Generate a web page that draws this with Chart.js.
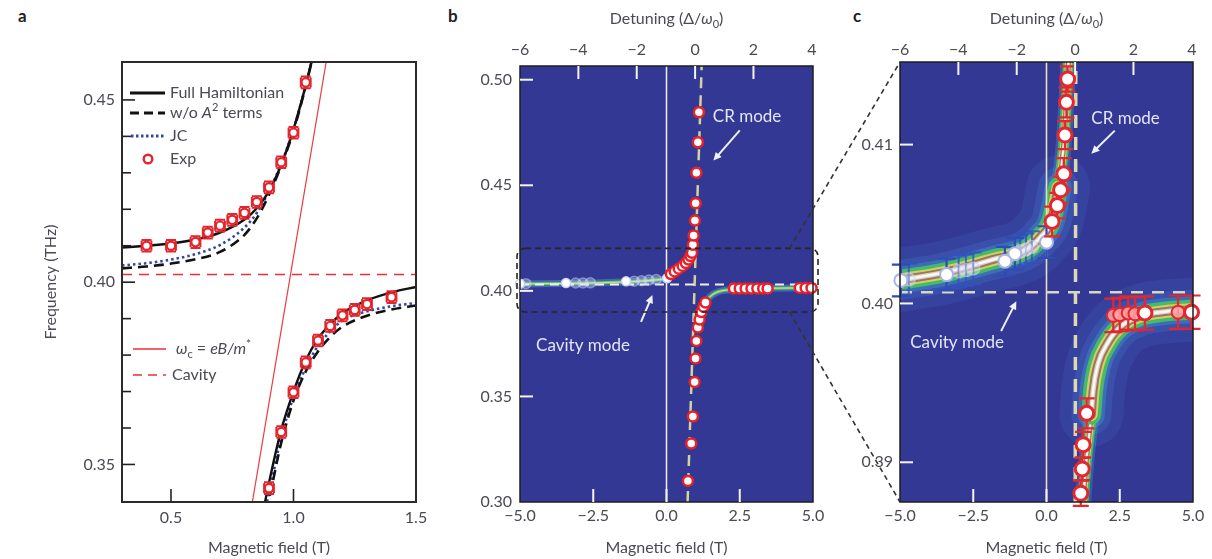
<!DOCTYPE html>
<html>
<head>
<meta charset="utf-8">
<script src="https://cdn.jsdelivr.net/npm/chart.js@4.4.1/dist/chart.umd.min.js"></script>
<style>
  body { margin: 0; background: #fff; width: 1212px; height: 559px; overflow: hidden; position: relative; }
  canvas { position: absolute; left: 0; top: 0; }
  .panel { position: absolute; font: bold 17px Lato, sans-serif; color: #222; line-height: 17px; }
</style>
</head>
<body>
<div class="panel" style="left:18px;top:7px">a</div>
<div class="panel" style="left:448px;top:7px">b</div>
<div class="panel" style="left:853px;top:7px">c</div>
<canvas id="chartA" width="1212" height="559"></canvas>
<canvas id="chartB" width="1212" height="559"></canvas>
<canvas id="chartC" width="1212" height="559"></canvas>
<script>
// ---------- panel a : anticrossing, theory vs experiment ----------
const aXRange = [0.3, 1.5];
const aYRange = [0.3397, 0.4604];
const aXTicks = [0.5, 1.0, 1.5];
const aYTicks = [0.35, 0.36, 0.37, 0.38, 0.39, 0.40, 0.41, 0.42, 0.43, 0.44, 0.45];
const aYLabeled = [0.35, 0.40, 0.45];

const aExpUpperB = [0.40, 0.50, 0.60, 0.65, 0.70, 0.75, 0.80, 0.85, 0.90, 0.95, 1.00, 1.05];
const aExpUpperF = [0.4100, 0.4100, 0.4110, 0.4136, 0.4155, 0.4171, 0.4190, 0.4220, 0.4260, 0.4329, 0.4410, 0.4548];
const aExpLowerB = [0.90, 0.95, 1.00, 1.05, 1.10, 1.15, 1.20, 1.25, 1.30, 1.40];
const aExpLowerF = [0.3435, 0.3589, 0.3698, 0.3780, 0.3840, 0.3880, 0.3909, 0.3924, 0.3940, 0.3959];
const aExpErrF = 0.0016;
const aExpErrB = 0.02;

const aUpperB = [0.30, 0.40, 0.50, 0.60, 0.70, 0.80, 0.85, 0.90, 0.95, 1.00, 1.05, 1.10];
const aFullUpperF = [0.4095, 0.4100, 0.4106, 0.4117, 0.4136, 0.4172, 0.4203, 0.4250, 0.4322, 0.4420, 0.4540, 0.4680];
const aNoA2UpperF = [0.4038, 0.4043, 0.4051, 0.4063, 0.4083, 0.4130, 0.4175, 0.4240, 0.4320, 0.4415, 0.4538, 0.4680];
const aJcUpperF = [0.4046, 0.4052, 0.4062, 0.4077, 0.4102, 0.4150, 0.4190, 0.4250, 0.4325, 0.4420, 0.4540, 0.4680];

const aLowerB = [0.87, 0.90, 0.95, 1.00, 1.05, 1.10, 1.15, 1.20, 1.30, 1.40, 1.50];
const aFullLowerF = [0.3350, 0.3450, 0.3595, 0.3700, 0.3785, 0.3845, 0.3885, 0.3915, 0.3950, 0.3972, 0.3987];
const aNoA2LowerF = [0.3330, 0.3405, 0.3560, 0.3675, 0.3755, 0.3810, 0.3850, 0.3878, 0.3908, 0.3925, 0.3936];
const aJcLowerF = [0.3340, 0.3420, 0.3575, 0.3685, 0.3765, 0.3825, 0.3865, 0.3895, 0.3920, 0.3934, 0.3943];

const aCavityF = 0.4021;
const aOmegaB = [0.82, 1.145];
const aOmegaF = [0.3348, 0.4651];

// ---------- panel b : full transmission map ----------
const bXRange = [-5, 5];
const bYRange = [0.30, 0.5065];
const detRange = [-6.0, 4.04];
const detTicks = [-6, -4, -2, 0, 2, 4];
const fieldTicks = [-5, -2.5, 0, 2.5, 5];
const bYTicks = [0.30, 0.35, 0.40, 0.45, 0.50];

const bRedUpperB = [0.15, 0.28, 0.42, 0.55, 0.66, 0.75, 0.82, 0.87, 0.90, 0.925, 0.97, 0.993, 1.02, 1.07, 1.106];
const bRedUpperF = [0.4080, 0.4092, 0.4105, 0.4118, 0.4132, 0.4148, 0.4165, 0.4180, 0.4218, 0.4262, 0.4333, 0.4415, 0.4559, 0.4704, 0.4846];
const bRedLowerB = [0.73, 0.845, 0.90, 0.96, 0.99, 1.02, 1.07, 1.13, 1.19, 1.26, 1.33, 2.30, 2.50, 2.70, 2.90, 3.10, 3.30, 3.45, 4.55, 4.75, 4.95];
const bRedLowerF = [0.3100, 0.3277, 0.3405, 0.3568, 0.3680, 0.3763, 0.3826, 0.3864, 0.3900, 0.3925, 0.3945, 0.4011, 0.4011, 0.4011, 0.4011, 0.4011, 0.4011, 0.4011, 0.4014, 0.4014, 0.4014];
const bWhiteB = [-5.0, -3.43, -1.38, 0.02];
const bWhiteF = [0.4034, 0.4037, 0.4045, 0.4060];
const bFaintB = [-4.8, -3.1, -2.85, -2.6, -1.1, -0.85, -0.6, -0.35];
const bFaintF = [0.4034, 0.4037, 0.4037, 0.4038, 0.4046, 0.4048, 0.4051, 0.4054];

// visible (flat) parts of the polariton ridges
const bRidgeUpperB = [-5.0, -3.0, -1.5, -0.5, 0.0, 0.3, 0.55];
const bRidgeUpperF = [0.4033, 0.4036, 0.4042, 0.4050, 0.4060, 0.4082, 0.4108];
const bRidgeLowerB = [1.10, 1.20, 1.35, 1.60, 2.00, 3.00, 5.00];
const bRidgeLowerF = [0.3835, 0.3905, 0.3950, 0.3985, 0.4003, 0.4011, 0.4014];

const bCavityF = 0.4030;
const bCrB = [0.72, 1.20];
const bBoxF = [0.3900, 0.4201];
const bLinkB = 4.2;

// ---------- panel c : zoom on the anticrossing ----------
const cXRange = [-5, 5];
const cYRange = [0.3875, 0.4152];
const cYTicks = [0.39, 0.40, 0.41];

const cRedUpperB = [0.72, 0.68, 0.63, 0.59, 0.48, 0.37, 0.19];
const cRedUpperF = [0.41413, 0.41266, 0.41060, 0.40816, 0.40715, 0.40616, 0.40516];
const cRedUpperErr = [0.00080, 0.00094, 0.00088, 0.00099, 0.00084, 0.00080, 0.00094];
const cWhiteB = [0.0, -1.08, -1.42, -3.41, -4.97];
const cWhiteF = [0.40386, 0.40313, 0.40266, 0.40182, 0.40145];
const cWhiteErr = [0.0010, 0.0010, 0.0009, 0.0010, 0.0010];
const cFaintB = [-4.7, -3.0, -2.75, -2.5, -0.9, -0.7, -0.5];
const cFaintF = [0.40150, 0.40203, 0.40210, 0.40220, 0.40329, 0.40340, 0.40355];
const cRedLowerB = [1.37, 1.25, 1.22, 1.17];
const cRedLowerF = [0.39308, 0.39111, 0.38958, 0.38805];
const cRedLowerErr = [0.00094, 0.00080, 0.00070, 0.00080];
const cRedRightB = [3.36, 4.95];
const cRedRightF = [0.39940, 0.39945];
const cRedFaintB = [2.28, 2.50, 2.79, 3.02, 4.49];
const cRedFaintF = [0.39925, 0.39930, 0.39940, 0.39935, 0.39945];
const cRightErr = 0.00105;

// ridges split into a flat (broad) part and a steep (narrow) part
const cFlatUpperB = [-5.0, -3.53, -1.82, -0.68, -0.2, 0.17, 0.40];
const cFlatUpperF = [0.40148, 0.40193, 0.40277, 0.40340, 0.40420, 0.40522, 0.40731];
const cSteepUpperB = [-0.2, 0.17, 0.40, 0.57, 0.68, 0.74, 0.80];
const cSteepUpperF = [0.40420, 0.40522, 0.40731, 0.40962, 0.41277, 0.41486, 0.41700];
const cSteepLowerB = [1.22, 1.25, 1.37, 1.53, 1.59, 1.76, 2.05];
const cSteepLowerF = [0.3865, 0.3875, 0.3903, 0.3930, 0.3945, 0.3962, 0.3974];
const cFlatLowerB = [1.53, 1.59, 1.76, 2.05, 2.50, 3.19, 4.10, 4.95];
const cFlatLowerF = [0.3930, 0.3945, 0.3962, 0.3974, 0.3985, 0.3992, 0.3995, 0.3996];

const cCavityF = 0.4007;
const cCrB = [0.98, 1.00];

// ---------- helpers ----------
const FAM = "Lato, 'DejaVu Sans', sans-serif";
const TXT = '#4a4a52';
const font = (size, style) => ((style ? style + ' ' : '') + size + 'px ' + FAM);
const pts = (xs, ys) => xs.map((x, i) => ({ x: x, y: ys[i] }));
const minus = s => s.replace('-', '\u2212');
const fmt = n => v => minus(Number(v).toFixed(n));

function line(data, color, width, dash, extra) {
  return Object.assign({ data: data, showLine: true, borderColor: color, borderWidth: width,
    borderDash: dash || [], pointRadius: 0, pointHoverRadius: 0, fill: false, clip: 0,
    borderCapStyle: 'butt', borderJoinStyle: 'round' }, extra || {});
}
function dots(data, r, fill, stroke, bw, extra) {
  return Object.assign({ data: data, showLine: false, pointRadius: r, pointHoverRadius: r,
    backgroundColor: fill, pointBackgroundColor: fill, borderColor: stroke, pointBorderColor: stroke,
    borderWidth: bw, pointBorderWidth: bw, clip: false }, extra || {});
}
// first dataset in the list is drawn first (bottom layer)
function stack(list) { list.forEach((d, i) => { d.order = list.length - i; }); return list; }
const smooth = { cubicInterpolationMode: 'monotone' };
const round = { cubicInterpolationMode: 'monotone', borderCapStyle: 'round' };

function axis(pos, range, ticks, label, pad, size, title) {
  return {
    type: 'linear', position: pos, min: range[0], max: range[1],
    afterBuildTicks: s => { s.ticks = ticks.map(v => ({ value: v })); },
    afterFit: s => {
      if (s.isHorizontal()) s.height = size; else s.width = size;
      s.paddingLeft = 0; s.paddingRight = 0; s.paddingTop = 0; s.paddingBottom = 0;
    },
    grid: { display: false, drawTicks: false },
    border: { display: false },
    ticks: { padding: pad, color: TXT, font: { family: FAM, size: 16 }, callback: label,
      autoSkip: false, maxRotation: 0, minRotation: 0 },
    title: title ? { display: true, text: title, color: TXT, font: { family: FAM, size: 16 }, padding: 0 }
                 : { display: false }
  };
}
function options(padding, scales) {
  return { responsive: false, animation: false, devicePixelRatio: 1, events: [],
    layout: { padding: padding }, scales: scales,
    plugins: { legend: { display: false }, tooltip: { enabled: false } } };
}

// error bars drawn just before their own dataset
Chart.register({
  id: 'errorBars',
  beforeDatasetDraw(chart, args) {
    const ds = chart.data.datasets[args.index];
    if (ds.errY === undefined && ds.errX === undefined) return;
    const ctx = chart.ctx, xs = chart.scales.x, ys = chart.scales.y, cap = ds.errCap || 5;
    ctx.save();
    ctx.strokeStyle = ds.errColor; ctx.lineWidth = ds.errWidth || 1.5;
    ds.data.forEach((p, i) => {
      const px = xs.getPixelForValue(p.x), py = ys.getPixelForValue(p.y);
      ctx.beginPath();
      if (ds.errY !== undefined) {
        const e = Array.isArray(ds.errY) ? ds.errY[i] : ds.errY;
        const y1 = ys.getPixelForValue(p.y - e), y2 = ys.getPixelForValue(p.y + e);
        ctx.moveTo(px, y1); ctx.lineTo(px, y2);
        ctx.moveTo(px - cap, y1); ctx.lineTo(px + cap, y1);
        ctx.moveTo(px - cap, y2); ctx.lineTo(px + cap, y2);
      }
      if (ds.errX !== undefined) {
        const e = Array.isArray(ds.errX) ? ds.errX[i] : ds.errX;
        const x1 = xs.getPixelForValue(p.x - e), x2 = xs.getPixelForValue(p.x + e);
        ctx.moveTo(x1, py); ctx.lineTo(x2, py);
        ctx.moveTo(x1, py - cap); ctx.lineTo(x1, py + cap);
        ctx.moveTo(x2, py - cap); ctx.lineTo(x2, py + cap);
      }
      ctx.stroke();
    });
    ctx.restore();
  }
});

function frame(fill, stroke, width) {
  return {
    id: 'frame',
    beforeDatasetsDraw(chart) {
      if (!fill) return;
      const ctx = chart.ctx, ca = chart.chartArea;
      ctx.save(); ctx.fillStyle = fill; ctx.fillRect(ca.left, ca.top, ca.width, ca.height); ctx.restore();
    },
    afterDatasetsDraw(chart) {
      const ctx = chart.ctx, ca = chart.chartArea;
      ctx.save(); ctx.strokeStyle = stroke; ctx.lineWidth = width;
      ctx.strokeRect(ca.left, ca.top, ca.width, ca.height); ctx.restore();
    }
  };
}

// ticks pointing into the plot
function inwardTicks(spec) {
  return {
    id: 'inTicks',
    afterDatasetsDraw(chart) {
      const ctx = chart.ctx, ca = chart.chartArea;
      ctx.save();
      Object.keys(spec).forEach(id => {
        const o = spec[id], s = chart.scales[id];
        ctx.strokeStyle = o.color; ctx.lineWidth = o.width || 1.5;
        s.ticks.forEach(t => {
          const p = s.getPixelForValue(t.value);
          const len = (!o.major || o.major.includes(t.value)) ? o.len : o.minorLen;
          ctx.beginPath();
          if (s.isHorizontal()) {
            if (p < ca.left + 3 || p > ca.right - 3) return;
            const top = s.position === 'top';
            const y0 = top ? ca.top : ca.bottom;
            ctx.moveTo(p, y0); ctx.lineTo(p, y0 + (top ? len : -len));
          } else {
            if (p < ca.top + 3 || p > ca.bottom - 3) return;
            ctx.moveTo(ca.left, p); ctx.lineTo(ca.left + len, p);
          }
          ctx.stroke();
        });
      });
      ctx.restore();
    }
  };
}

// text with italic / sub / superscript pieces
function rich(ctx, x, y, parts, align, color) {
  let w = 0;
  parts.forEach(p => { ctx.font = font(p.size || 16, p.style); w += ctx.measureText(p.t).width; });
  let cx = align === 'center' ? x - w / 2 : x;
  ctx.fillStyle = color; ctx.textAlign = 'left'; ctx.textBaseline = 'middle';
  parts.forEach(p => {
    ctx.font = font(p.size || 16, p.style);
    ctx.fillText(p.t, cx, y + (p.dy || 0));
    cx += ctx.measureText(p.t).width;
  });
}
function arrow(ctx, x1, y1, x2, y2, color) {
  const a = Math.atan2(y2 - y1, x2 - x1), h = 9;
  ctx.strokeStyle = color; ctx.fillStyle = color; ctx.lineWidth = 2;
  ctx.beginPath(); ctx.moveTo(x1, y1); ctx.lineTo(x2 - Math.cos(a) * h * 0.7, y2 - Math.sin(a) * h * 0.7); ctx.stroke();
  ctx.beginPath(); ctx.moveTo(x2, y2);
  ctx.lineTo(x2 - h * Math.cos(a - 0.45), y2 - h * Math.sin(a - 0.45));
  ctx.lineTo(x2 - h * Math.cos(a + 0.45), y2 - h * Math.sin(a + 0.45));
  ctx.closePath(); ctx.fill();
}

const detuningTitle = {
  id: 'detTitle',
  afterDraw(chart) {
    const ctx = chart.ctx, ca = chart.chartArea;
    ctx.save();
    rich(ctx, (ca.left + ca.right) / 2, 19, [
      { t: 'Detuning (\u0394/' }, { t: '\u03c9', style: 'italic' },
      { t: '0', size: 11, dy: 5 }, { t: ')' }
    ], 'center', TXT);
    ctx.restore();
  }
};

// labels + arrows placed in data units
function notes(items) {
  return {
    id: 'notes',
    afterDatasetsDraw(chart) {
      const ctx = chart.ctx, xs = chart.scales.x, ys = chart.scales.y;
      ctx.save();
      items.forEach(n => {
        ctx.font = font(17); ctx.fillStyle = '#e3e6f7';
        ctx.textAlign = 'left'; ctx.textBaseline = 'middle';
        ctx.fillText(n.text, xs.getPixelForValue(n.at[0]), ys.getPixelForValue(n.at[1]));
        arrow(ctx, xs.getPixelForValue(n.from[0]), ys.getPixelForValue(n.from[1]),
          xs.getPixelForValue(n.to[0]), ys.getPixelForValue(n.to[1]), '#eef0fa');
      });
      ctx.restore();
    }
  };
}

const legendA = {
  id: 'legendA',
  afterDatasetsDraw(chart) {
    const ctx = chart.ctx, ca = chart.chartArea, L = ca.left, T = ca.top;
    const sample = (y, x1, x2, color, w, dash) => {
      ctx.save(); ctx.strokeStyle = color; ctx.lineWidth = w; ctx.setLineDash(dash);
      ctx.beginPath(); ctx.moveTo(L + x1, T + y); ctx.lineTo(L + x2, T + y); ctx.stroke(); ctx.restore();
    };
    ctx.save();
    sample(31, 8, 43, '#111', 3, []);
    rich(ctx, L + 48, T + 31, [{ t: 'Full Hamiltonian' }], 'left', TXT);
    sample(51, 8, 43, '#111', 3, [9, 5]);
    rich(ctx, L + 48, T + 51, [{ t: 'w/o ' }, { t: 'A', style: 'italic' }, { t: '2', size: 11, dy: -6 }, { t: ' terms' }], 'left', TXT);
    sample(74, 9, 43, '#3347a8', 3, [2.5, 2.5]);
    rich(ctx, L + 48, T + 74, [{ t: 'JC' }], 'left', TXT);
    ctx.beginPath(); ctx.arc(L + 26, T + 97, 4.3, 0, Math.PI * 2);
    ctx.fillStyle = '#fff'; ctx.fill(); ctx.strokeStyle = '#e3262e'; ctx.lineWidth = 2.4; ctx.stroke();
    rich(ctx, L + 48, T + 97, [{ t: 'Exp' }], 'left', TXT);
    sample(287, 11, 44, '#e8303a', 1.5, []);
    rich(ctx, L + 54, T + 287, [{ t: '\u03c9', style: 'italic' }, { t: 'c', size: 11, dy: 5 },
      { t: ' = ' }, { t: 'eB/m', style: 'italic' }, { t: '*', size: 12, dy: -5 }], 'left', TXT);
    sample(313, 11, 44, '#e8303a', 1.5, [9, 6]);
    rich(ctx, L + 50, T + 313, [{ t: 'Cavity' }], 'left', TXT);
    ctx.restore();
  }
};

// ---------- panel a ----------
const chartA = new Chart(document.getElementById('chartA'), {
  type: 'scatter',
  data: { datasets: stack([
    line(pts(aXRange, [aCavityF, aCavityF]), '#e8303a', 1.5, [10, 7]),
    line(pts(aOmegaB, aOmegaF), '#ee3a40', 1.2),
    line(pts(aUpperB, aJcUpperF), '#3347a8', 2.6, [2.5, 3], smooth),
    line(pts(aLowerB, aJcLowerF), '#3347a8', 2.6, [2.5, 3], smooth),
    line(pts(aUpperB, aNoA2UpperF), '#111', 2.6, [10, 6], smooth),
    line(pts(aLowerB, aNoA2LowerF), '#111', 2.6, [10, 6], smooth),
    line(pts(aUpperB, aFullUpperF), '#111', 2.4, [], smooth),
    line(pts(aLowerB, aFullLowerF), '#111', 2.4, [], smooth),
    dots(pts(aExpUpperB, aExpUpperF), 4.2, '#fff', '#e3262e', 2.2,
      { errY: aExpErrF, errX: aExpErrB, errCap: 5, errColor: '#e3262e', errWidth: 2 }),
    dots(pts(aExpLowerB, aExpLowerF), 4.2, '#fff', '#e3262e', 2.2,
      { errY: aExpErrF, errX: aExpErrB, errCap: 5, errColor: '#e3262e', errWidth: 2 })
  ]) },
  options: options({ left: 41, right: 796, top: 62, bottom: 2 }, {
    x: axis('bottom', aXRange, aXTicks, fmt(1), 6, 55, 'Magnetic field (T)'),
    y: axis('left', aYRange, aYTicks, v => aYLabeled.includes(v) ? v.toFixed(2) : '', 7, 81, 'Frequency (THz)')
  }),
  plugins: [frame(null, '#2b2b2b', 2),
    inwardTicks({ x: { len: 13, color: '#222', width: 1.6 },
                  y: { len: 13, minorLen: 9, major: aYLabeled, color: '#222', width: 1.6 } }),
    legendA]
});

// ---------- panel b ----------
const ridgeGlowB = (b, f) => [
  line(pts(b, f), 'rgba(70,170,215,0.45)', 7, [], round),
  line(pts(b, f), '#6cc36c', 3, [], round),
  line(pts(b, f), '#e3e07a', 1, [], round)
];
const chartB = new Chart(document.getElementById('chartB'), {
  type: 'scatter',
  data: { datasets: stack([
    ...ridgeGlowB(bRidgeUpperB, bRidgeUpperF),
    ...ridgeGlowB(bRidgeLowerB, bRidgeLowerF),
    line(pts([0, 0], bYRange), '#f2f2f2', 1.5),
    line(pts(bCrB, bYRange), '#d2d2a0', 2.5, [11, 7]),
    line(pts(bXRange, [bCavityF, bCavityF]), '#eeeef4', 2, [9, 6]),
    dots(pts(bFaintB, bFaintF), 5, 'rgba(230,235,255,0.25)', 'rgba(210,220,255,0.45)', 1.5),
    dots(pts(bWhiteB, bWhiteF), 4.5, '#ffffff', '#c8d0ee', 1.5),
    dots(pts(bRedUpperB, bRedUpperF), 5, '#ffffff', '#e8202a', 2.5),
    dots(pts(bRedLowerB, bRedLowerF), 5, '#ffffff', '#e8202a', 2.5)
  ]) },
  options: options({ left: 460, right: 399, top: 11, bottom: 2 }, {
    x: axis('bottom', bXRange, fieldTicks, fmt(1), 4, 55, 'Magnetic field (T)'),
    xTop: axis('top', detRange, detTicks, fmt(0), 7, 55),
    y: axis('left', bYRange, bYTicks, fmt(2), 8, 60)
  }),
  plugins: [frame('#323893', '#1e1e1e', 1.5),
    inwardTicks({ x: { len: 13, color: '#f4f4f4', width: 2 },
                  xTop: { len: 13, color: '#f4f4f4', width: 2 },
                  y: { len: 13, color: '#f4f4f4', width: 2 } }),
    notes([
      { text: 'CR mode', at: [1.58, 0.4826], from: [2.5, 0.4760], to: [1.6, 0.4617] },
      { text: 'Cavity mode', at: [-4.45, 0.3743], from: [-0.87, 0.3853], to: [-0.48, 0.3980] }
    ]),
    {
      id: 'zoomBox',
      afterDatasetsDraw(chart) {
        const ctx = chart.ctx, ca = chart.chartArea, ys = chart.scales.y;
        const yTop = ys.getPixelForValue(bBoxF[1]), yBot = ys.getPixelForValue(bBoxF[0]);
        ctx.save(); ctx.strokeStyle = '#262626'; ctx.lineWidth = 1.6; ctx.setLineDash([6, 4]);
        ctx.beginPath(); ctx.roundRect(ca.left - 3, yTop, ca.width + 8, yBot - yTop, 8); ctx.stroke();
        ctx.restore();
      }
    },
    detuningTitle]
});

// ---------- panel c ----------
const haloC = (b, f) => [
  line(pts(b, f), 'rgba(80,130,225,0.14)', 64, [], round),
  line(pts(b, f), 'rgba(80,140,225,0.20)', 40, [], round),
  line(pts(b, f), 'rgba(60,175,215,0.32)', 27, [], round)
];
const bandC = (b, f, k) => [
  line(pts(b, f), '#48b86a', 20 * k, [], round),
  line(pts(b, f), '#cfd35c', 13 * k, [], round),
  line(pts(b, f), '#9a7560', 9 * k, [], round),
  line(pts(b, f), '#d9cfc8', 5 * k, [], round),
  line(pts(b, f), '#fbf8f4', 2.5 * k, [], round)
];
const redErr = (e, cap) => ({ errY: e, errCap: cap, errColor: '#e5252f', errWidth: 2.2 });
const chartC = new Chart(document.getElementById('chartC'), {
  type: 'scatter',
  data: { datasets: stack([
    ...haloC(cFlatUpperB, cFlatUpperF),
    ...haloC(cFlatLowerB, cFlatLowerF),
    line(pts(cSteepUpperB, cSteepUpperF), 'rgba(60,175,215,0.3)', 16, [], round),
    line(pts(cSteepLowerB, cSteepLowerF), 'rgba(60,175,215,0.3)', 16, [], round),
    ...bandC(cSteepUpperB, cSteepUpperF, 0.55),
    ...bandC(cSteepLowerB, cSteepLowerF, 0.55),
    ...bandC(cFlatUpperB, cFlatUpperF, 1),
    ...bandC(cFlatLowerB, cFlatLowerF, 1),
    line(pts([0, 0], cYRange), '#e6e2b8', 1.6),
    line(pts(cCrB, cYRange), '#dcd8b4', 3.5, [13, 9]),
    line(pts(cXRange, [cCavityF, cCavityF]), '#d8d6c4', 2.5, [12, 9]),
    dots(pts(cFaintB, cFaintF), 6.5, 'rgba(225,230,255,0.35)', 'rgba(200,210,250,0.55)', 1.5,
      { errY: 0.0010, errCap: 8, errColor: 'rgba(50,80,190,0.8)', errWidth: 2 }),
    dots(pts(cWhiteB, cWhiteF), 6.5, '#ffffff', '#a9b4e6', 2,
      { errY: cWhiteErr, errCap: 9, errColor: '#2e4cb8', errWidth: 2.2 }),
    dots(pts(cRedFaintB, cRedFaintF), 6.5, 'rgba(255,165,165,0.85)', '#e5252f', 2, redErr(cRightErr, 9)),
    dots(pts(cRedRightB, cRedRightF), 7, '#ffffff', '#e5252f', 3, redErr(cRightErr, 9)),
    dots(pts(cRedLowerB, cRedLowerF), 7, '#ffffff', '#e5252f', 3, redErr(cRedLowerErr, 8)),
    dots(pts(cRedUpperB, cRedUpperF), 7, '#ffffff', '#e5252f', 3, redErr(cRedUpperErr, 8))
  ]) },
  options: options({ left: 840, right: 19, top: 11, bottom: 2 }, {
    x: axis('bottom', cXRange, fieldTicks, fmt(1), 4, 55, 'Magnetic field (T)'),
    xTop: axis('top', detRange, detTicks, fmt(0), 3, 51),
    y: axis('left', cYRange, cYTicks, fmt(2), 7, 60)
  }),
  plugins: [frame('#323893', '#1e1e1e', 1.5),
    inwardTicks({ x: { len: 13, color: '#f4f4f4', width: 2 },
                  xTop: { len: 13, color: '#f4f4f4', width: 2 },
                  y: { len: 13, color: '#f4f4f4', width: 2 } }),
    notes([
      { text: 'CR mode', at: [1.53, 0.41167], from: [2.33, 0.41088], to: [1.53, 0.40943] },
      { text: 'Cavity mode', at: [-4.65, 0.39753], from: [-1.55, 0.39826], to: [-1.03, 0.40014] }
    ]),
    {
      // dashed guides from the box in panel b to the corners of panel c
      id: 'zoomLinks',
      afterDraw(chart) {
        const ctx = chart.ctx, ca = chart.chartArea;
        const bx = chartB.scales.x.getPixelForValue(bLinkB);
        const by1 = chartB.scales.y.getPixelForValue(bBoxF[1]);
        const by0 = chartB.scales.y.getPixelForValue(bBoxF[0]);
        ctx.save(); ctx.strokeStyle = '#333'; ctx.lineWidth = 1.6; ctx.setLineDash([5, 4]);
        ctx.beginPath(); ctx.moveTo(bx, by1); ctx.lineTo(ca.left, ca.top);
        ctx.moveTo(bx, by0); ctx.lineTo(ca.left, ca.bottom); ctx.stroke();
        ctx.restore();
      }
    },
    detuningTitle]
});
</script>
</body>
</html>
